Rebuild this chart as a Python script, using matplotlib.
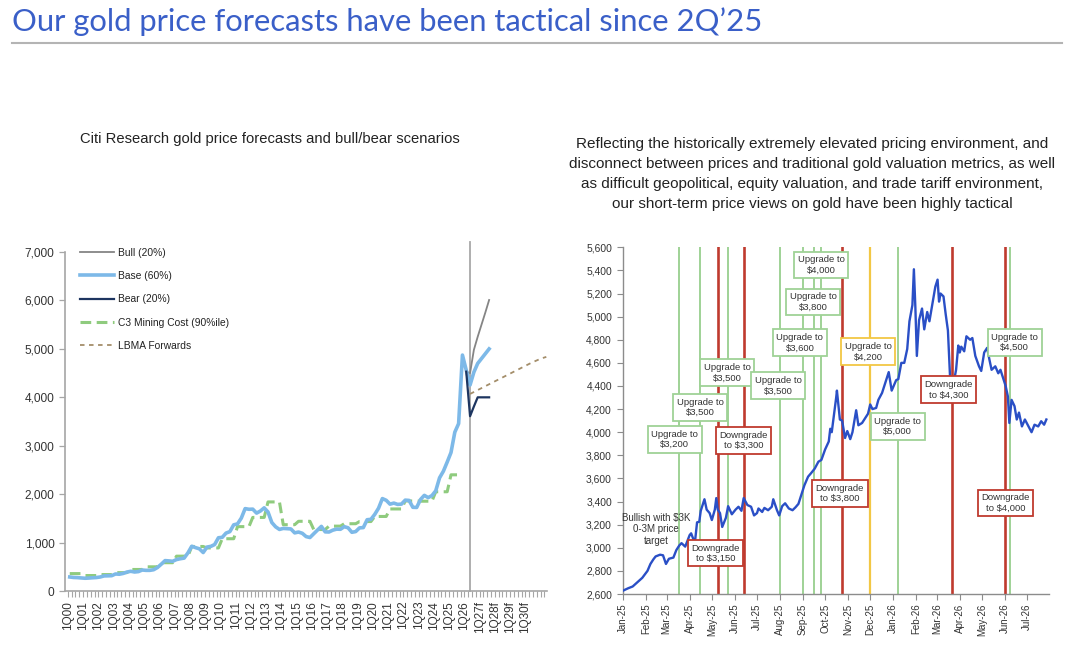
import matplotlib
matplotlib.use("Agg")
import matplotlib.pyplot as plt
import matplotlib.dates as mdates
import matplotlib.ticker as mticker
import numpy as np
import pandas as pd

plt.rcParams["font.family"] = ["Liberation Sans", "DejaVu Sans"]

# ---------------- left chart data (quarterly, 1Q00 = index 0) ----------------
qtr_labels = ["1Q00", "1Q01", "1Q02", "1Q03", "1Q04", "1Q05", "1Q06", "1Q07",
              "1Q08", "1Q09", "1Q10", "1Q11", "1Q12", "1Q13", "1Q14", "1Q15",
              "1Q16", "1Q17", "1Q18", "1Q19", "1Q20", "1Q21", "1Q22", "1Q23",
              "1Q24", "1Q25", "1Q26", "1Q27f", "1Q28f", "1Q29f", "1Q30f"]

base_hist = [290, 280, 277, 270, 264, 268, 274, 279, 290, 312, 314, 317,
             352, 347, 363, 392, 408, 393, 401, 434, 427, 427, 440, 485,
             554, 628, 622, 614, 650, 667, 680, 788, 925, 896, 872, 795,
             908, 922, 960, 1100, 1109, 1197, 1227, 1367, 1386, 1506, 1702, 1688,
             1691, 1609, 1652, 1718, 1632, 1415, 1326, 1272, 1293, 1288, 1282, 1201,
             1218, 1192, 1124, 1105, 1183, 1260, 1335, 1222, 1219, 1257, 1278, 1275,
             1329, 1306, 1213, 1228, 1304, 1310, 1472, 1481, 1583, 1711, 1909, 1874,
             1794, 1816, 1789, 1795, 1877, 1871, 1729, 1726, 1890, 1976, 1929, 1971,
             2070, 2338, 2474, 2663, 2860, 3280, 3457, 4873]

# forecasts from 1Q26 (index 104) to 3Q27 (index 110)
fc_start = 104
base_fc = [4560, 4254, 4520, 4700, 4800, 4900, 5000]
bull_fc = [4530, 4500, 4980, 5250, 5500, 5750, 6010]
bear_fc = [4530, 3610, 3810, 4000, 4000, 4000, 4000]

# C3 mining cost, 90th percentile, one value per year 2000-2025
c3_annual = [360, 320, 340, 380, 445, 500, 585, 720, 920, 890, 1080, 1330,
             1520, 1840, 1370, 1440, 1270, 1340, 1390, 1435, 1540, 1695, 1860,
             1855, 2050, 2400]

# LBMA forwards from 2Q26 (index 105)
lbma_start = 105
lbma_fwd = [4070, 4110, 4150, 4190, 4230, 4270, 4310, 4350, 4390, 4430, 4470,
            4510, 4550, 4590, 4630, 4670, 4710, 4745, 4780, 4810, 4835]

today_q = 105

# ---------------- right chart data (daily gold price) ----------------
price_dates = [
    "2025-01-01", "2025-01-08", "2025-01-14", "2025-01-20", "2025-01-27", "2025-02-03",
    "2025-02-07", "2025-02-11", "2025-02-14", "2025-02-20", "2025-02-24", "2025-02-28",
    "2025-03-04", "2025-03-10", "2025-03-14", "2025-03-18", "2025-03-21", "2025-03-26",
    "2025-04-01", "2025-04-03", "2025-04-08", "2025-04-11", "2025-04-14", "2025-04-16",
    "2025-04-21", "2025-04-24", "2025-04-28", "2025-05-01", "2025-05-05", "2025-05-07",
    "2025-05-09", "2025-05-12", "2025-05-15", "2025-05-20", "2025-05-23", "2025-05-28",
    "2025-06-02", "2025-06-06", "2025-06-10", "2025-06-13", "2025-06-18", "2025-06-23",
    "2025-06-27", "2025-07-01", "2025-07-03", "2025-07-08", "2025-07-11", "2025-07-16",
    "2025-07-21", "2025-07-23", "2025-07-28", "2025-07-31", "2025-08-04", "2025-08-08",
    "2025-08-13", "2025-08-18", "2025-08-22", "2025-08-26", "2025-08-29", "2025-09-03",
    "2025-09-08", "2025-09-12", "2025-09-17", "2025-09-22", "2025-09-26", "2025-10-01",
    "2025-10-06", "2025-10-08", "2025-10-10", "2025-10-13", "2025-10-16", "2025-10-17",
    "2025-10-21", "2025-10-24", "2025-10-28", "2025-10-31", "2025-11-04", "2025-11-07",
    "2025-11-12", "2025-11-15", "2025-11-20", "2025-11-25", "2025-11-28", "2025-12-01",
    "2025-12-04", "2025-12-09", "2025-12-12", "2025-12-17", "2025-12-22", "2025-12-26",
    "2025-12-30", "2026-01-05", "2026-01-08", "2026-01-12", "2026-01-16", "2026-01-20",
    "2026-01-23", "2026-01-27", "2026-01-29", "2026-01-31", "2026-02-02", "2026-02-05",
    "2026-02-09", "2026-02-12", "2026-02-16", "2026-02-19", "2026-02-24", "2026-02-27",
    "2026-03-02", "2026-03-04", "2026-03-06", "2026-03-10", "2026-03-13", "2026-03-16",
    "2026-03-18", "2026-03-20", "2026-03-23", "2026-03-27", "2026-03-30", "2026-04-01",
    "2026-04-03", "2026-04-07", "2026-04-10", "2026-04-15", "2026-04-18", "2026-04-22",
    "2026-04-27", "2026-04-30", "2026-05-04", "2026-05-08", "2026-05-11", "2026-05-14",
    "2026-05-19", "2026-05-23", "2026-05-26", "2026-05-29", "2026-06-02", "2026-06-05",
    "2026-06-07", "2026-06-10", "2026-06-14", "2026-06-17", "2026-06-20", "2026-06-24",
    "2026-06-28", "2026-07-03", "2026-07-07", "2026-07-11", "2026-07-16", "2026-07-20",
    "2026-07-24", "2026-07-27"]
price_vals = [
    2629, 2650, 2665, 2700, 2740, 2800, 2860, 2900, 2925, 2940, 2935, 2860,
    2905, 2915, 2980, 3020, 3040, 3010, 3110, 3125, 3040, 3220, 3225, 3320,
    3420, 3330, 3300, 3240, 3330, 3430, 3330, 3300, 3180, 3260, 3360, 3290,
    3330, 3355, 3320, 3430, 3370, 3355, 3280, 3300, 3340, 3310, 3345, 3325,
    3355, 3420, 3325, 3280, 3360, 3385, 3340, 3325, 3350, 3380, 3440, 3540,
    3615, 3645, 3685, 3745, 3760, 3850, 3920, 4030, 4000, 4150, 4300, 4360,
    4110, 4100, 3950, 4010, 3940, 4000, 4190, 4060, 4080, 4130, 4160, 4240,
    4200, 4210, 4280, 4340, 4440, 4520, 4360, 4450, 4460, 4600, 4600, 4720,
    4960, 5100, 5410, 5080, 4660, 4970, 5070, 4890, 5040, 4960, 5150, 5260,
    5320, 5130, 5200, 5175, 5020, 4880, 4600, 4320, 4400, 4540, 4750, 4690,
    4740, 4700, 4830, 4800, 4815, 4660, 4570, 4530, 4690, 4730, 4630, 4540,
    4570, 4510, 4540, 4480, 4400, 4310, 4080, 4280, 4225, 4110, 4170, 4050,
    4110, 4050, 4000, 4065, 4050, 4095, 4065, 4110]

# forecast changes: vertical line date, kind, label, label box position
call_dates = ["2025-03-18", "2025-04-15", "2025-05-09", "2025-05-23", "2025-06-13",
              "2025-08-01", "2025-09-01", "2025-09-16", "2025-09-26", "2025-10-24",
              "2025-12-01", "2026-01-08", "2026-03-21", "2026-06-01", "2026-06-08"]
call_kinds = ["up", "up", "down", "up", "down", "up", "up", "up", "up", "down",
              "yellow", "up", "down", "down", "up"]
call_labels = ["Upgrade to\n$3,200", "Upgrade to\n$3,500", "Downgrade\nto $3,150",
               "Upgrade to\n$3,500", "Downgrade\nto $3,300", "Upgrade to\n$3,500",
               "Upgrade to\n$3,600", "Upgrade to\n$3,800", "Upgrade to\n$4,000",
               "Downgrade\nto $3,800", "Upgrade to\n$4,200", "Upgrade to\n$5,000",
               "Downgrade\nto $4,300", "Downgrade\nto $4,000", "Upgrade to\n$4,500"]
label_dates = ["2025-03-12", "2025-04-15", "2025-05-06", "2025-05-22", "2025-06-13",
               "2025-07-30", "2025-08-28", "2025-09-15", "2025-09-26", "2025-10-21",
               "2025-11-28", "2026-01-07", "2026-03-17", "2026-06-02", "2026-06-14"]
label_prices = [3937, 4213, 2953, 4515, 3928, 4403, 4774, 5128, 5447, 3471,
                4697, 4049, 4368, 3388, 4778]

kind_colors = {"up": "#9fd296", "down": "#bf3a2e", "yellow": "#f2c744"}
kind_widths = {"up": 1.4, "down": 1.9, "yellow": 1.6}

fig = plt.figure(figsize=(10.8, 6.6), dpi=100)

# title and rule
fig.text(0.011, 0.967, "Our gold price forecasts have been tactical since 2Q\u201925",
         fontsize=22.3, color="#3a5fc8", family=["Lato", "DejaVu Sans"], va="center")
fig.add_artist(plt.Line2D([0.011, 0.983], [0.935, 0.935], color="#b4b4b4", lw=1.5))

fig.text(0.25, 0.789, "Citi Research gold price forecasts and bull/bear scenarios",
         fontsize=10.6, ha="center", va="center", color="#222222")
fig.text(0.752, 0.737,
         "Reflecting the historically extremely elevated pricing environment, and\n"
         "disconnect between prices and traditional gold valuation metrics, as well\n"
         "as difficult geopolitical, equity valuation, and trade tariff environment,\n"
         "our short-term price views on gold have been highly tactical",
         fontsize=11.0, ha="center", va="center", color="#222222", linespacing=1.55)

# ---------------- left chart ----------------
ax1 = fig.add_axes([0.0606, 0.1045, 0.4463, 0.5136])
hist_x = np.arange(len(base_hist)) + 0.5
fc_x = np.arange(fc_start, fc_start + len(base_fc)) + 0.5
c3_q = np.repeat(c3_annual, 4)
c3_x = np.arange(len(c3_q)) + 0.5
lbma_x = np.arange(lbma_start, lbma_start + len(lbma_fwd)) + 0.5

ax1.plot(fc_x, bull_fc, color="#858585", lw=1.3, label="Bull (20%)", zorder=3)
ax1.plot(np.concatenate([hist_x, fc_x]), base_hist + base_fc, color="#7db9e8",
         lw=2.6, label="Base (60%)", zorder=4, solid_joinstyle="round")
ax1.plot(fc_x, bear_fc, color="#1d3560", lw=1.6, label="Bear (20%)", zorder=5)
ax1.plot(c3_x, c3_q, color="#8fcb7e", lw=2.2, ls=(0, (3.5, 1.8)),
         label="C3 Mining Cost (90%ile)", zorder=3)
ax1.plot(lbma_x, lbma_fwd, color="#a48e6a", lw=1.3, ls=(0, (2.5, 2.5)),
         label="LBMA Forwards", zorder=3)
ax1.axvline(today_q + 0.5, ymin=0, ymax=1.03, clip_on=False, color="#a8a8a8",
            lw=1.3, zorder=2)

ax1.set_xlim(-0.63, 125.8)
ax1.set_ylim(0, 7000)
ax1.set_yticks(range(0, 7001, 1000))
ax1.yaxis.set_major_formatter(mticker.StrMethodFormatter("{x:,.0f}"))
ax1.set_xticks(np.arange(len(qtr_labels)) * 4)
ax1.set_xticklabels(qtr_labels, rotation=90, fontsize=8.5, color="#333333")
ax1.set_xticks(np.arange(0, 126), minor=True)
ax1.tick_params(axis="y", labelsize=8.6, labelcolor="#333333", length=4,
                width=0.9, pad=4, color="#a6a6a6")
ax1.tick_params(axis="x", which="both", length=4, width=0.8, color="#a6a6a6",
                pad=3)
for s in ("top", "right"):
    ax1.spines[s].set_visible(False)
for s in ("left", "bottom"):
    ax1.spines[s].set_color("#a6a6a6")
    ax1.spines[s].set_linewidth(1.2)

leg = ax1.legend(loc="upper left", bbox_to_anchor=(0.03, 1.013), frameon=False,
                 fontsize=7.4, handlelength=3.3, handletextpad=0.4,
                 labelspacing=1.3, borderpad=0, borderaxespad=0)
for t in leg.get_texts():
    t.set_color("#222222")

# ---------------- right chart ----------------
ax2 = fig.add_axes([0.5769, 0.1, 0.394, 0.5253])
pdates = pd.to_datetime(price_dates)
ax2.plot(pdates, price_vals, color="#2a4fc6", lw=1.7, zorder=3)

for d, k in zip(call_dates, call_kinds):
    ax2.axvline(pd.Timestamp(d), color=kind_colors[k], lw=kind_widths[k], zorder=2)

for d, p, txt, k in zip(label_dates, label_prices, call_labels, call_kinds):
    ax2.text(pd.Timestamp(d), p, txt, ha="center", va="center", fontsize=6.8,
             color="#333333", linespacing=1.2, zorder=5,
             bbox=dict(boxstyle="square,pad=0.38", fc="white",
                       ec=kind_colors[k], lw=1.3))

ax2.text(pd.Timestamp("2025-02-15"), 3160, "Bullish with $3K\n0-3M price\ntarget",
         ha="center", va="center", fontsize=7.0, color="#333333",
         linespacing=1.2, zorder=5)

ax2.set_ylim(2600, 5600)
ax2.set_yticks(range(2600, 5601, 200))
ax2.yaxis.set_major_formatter(mticker.StrMethodFormatter("{x:,.0f}"))
ax2.set_xlim(pd.Timestamp("2025-01-01"), pd.Timestamp("2026-07-30"))
ax2.xaxis.set_major_locator(mdates.MonthLocator())
ax2.xaxis.set_major_formatter(mdates.DateFormatter("%b-%y"))
ax2.tick_params(axis="x", labelrotation=90, labelsize=7.0, length=4, width=0.8,
                color="#8c8c8c", labelcolor="#333333", pad=3)
ax2.tick_params(axis="y", labelsize=7.4, length=4, width=0.8, color="#8c8c8c",
                labelcolor="#333333", pad=4)
for s in ("top", "right"):
    ax2.spines[s].set_visible(False)
for s in ("left", "bottom"):
    ax2.spines[s].set_color("#8c8c8c")
    ax2.spines[s].set_linewidth(1.0)

fig.savefig("out.png", dpi=100)
